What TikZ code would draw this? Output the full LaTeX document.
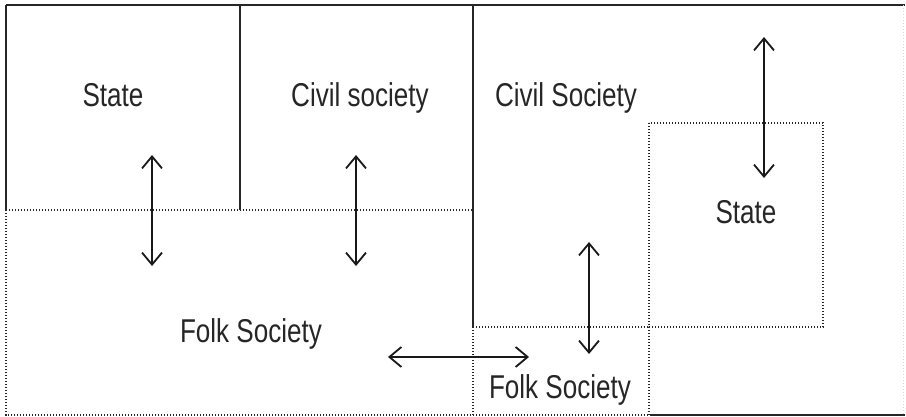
\documentclass[tikz,border=0pt]{standalone}
\usepackage{fontspec}
\setmainfont{Liberation Sans}[FakeStretch=0.79]
\usetikzlibrary{arrows.meta}
\begin{document}
\begin{tikzpicture}[x=1pt,y=-1pt,
  solidline/.style={line width=1.6pt,black!85},
  dotline/.style={line width=1.6pt,black!85,dash pattern=on 1.4pt off 1.6pt},
  faintline/.style={line width=1pt,black!15,dash pattern=on 1.3pt off 1.7pt},
  twoway/.style={line width=1.8pt,black!90,{Straight Barb[length=12pt,width=20pt]}-{Straight Barb[length=12pt,width=20pt]}},
  lbl/.style={anchor=base,inner sep=0pt,font=\fontsize{33}{36}\selectfont,text=black!85}]
\useasboundingbox (0,0) rectangle (906,417);
% frame and divisions
\draw[solidline] (6,5) -- (905,5);
\draw[solidline] (6,5) -- (6,210);
\draw[dotline] (6,210) -- (6,415) -- (650,415);
\draw[solidline] (650,415) -- (905,415);
\draw[faintline] (903,5) -- (903,415);
\draw[solidline] (240,5) -- (240,210);
\draw[solidline] (473,5) -- (473,327);
\draw[dotline] (6,210) -- (473,210);
\draw[dotline] (473,327) -- (473,415);
\draw[dotline] (473,327) -- (649,327);
\draw[dotline] (649,123) rectangle (823,327);
\draw[dotline] (649,327) -- (649,415);
% labels
\node[lbl] (stateL) at (113,107) {State};
\node[lbl] (civilL) at (360,107) {Civil society};
\node[lbl] (civilR) at (566,107) {Civil Society};
\node[lbl] (stateR) at (746,224) {State};
\node[lbl] (folkL) at (251,342) {Folk Society};
\node[lbl] (folkR) at (560,398) {Folk Society};
% arrow end points
\coordinate (a1t) at (152,155); \coordinate (a1b) at (152,266);
\coordinate (a2t) at (356,155); \coordinate (a2b) at (356,266);
\coordinate (a3l) at (388,357); \coordinate (a3r) at (529,357);
\coordinate (a4t) at (589,242); \coordinate (a4b) at (589,354);
\coordinate (a5t) at (764,37);  \coordinate (a5b) at (764,178);
\draw[twoway] (a1t) -- (a1b);
\draw[twoway] (a2t) -- (a2b);
\draw[twoway] (a3l) -- (a3r);
\draw[twoway] (a4t) -- (a4b);
\draw[twoway] (a5t) -- (a5b);
\end{tikzpicture}
\end{document}
